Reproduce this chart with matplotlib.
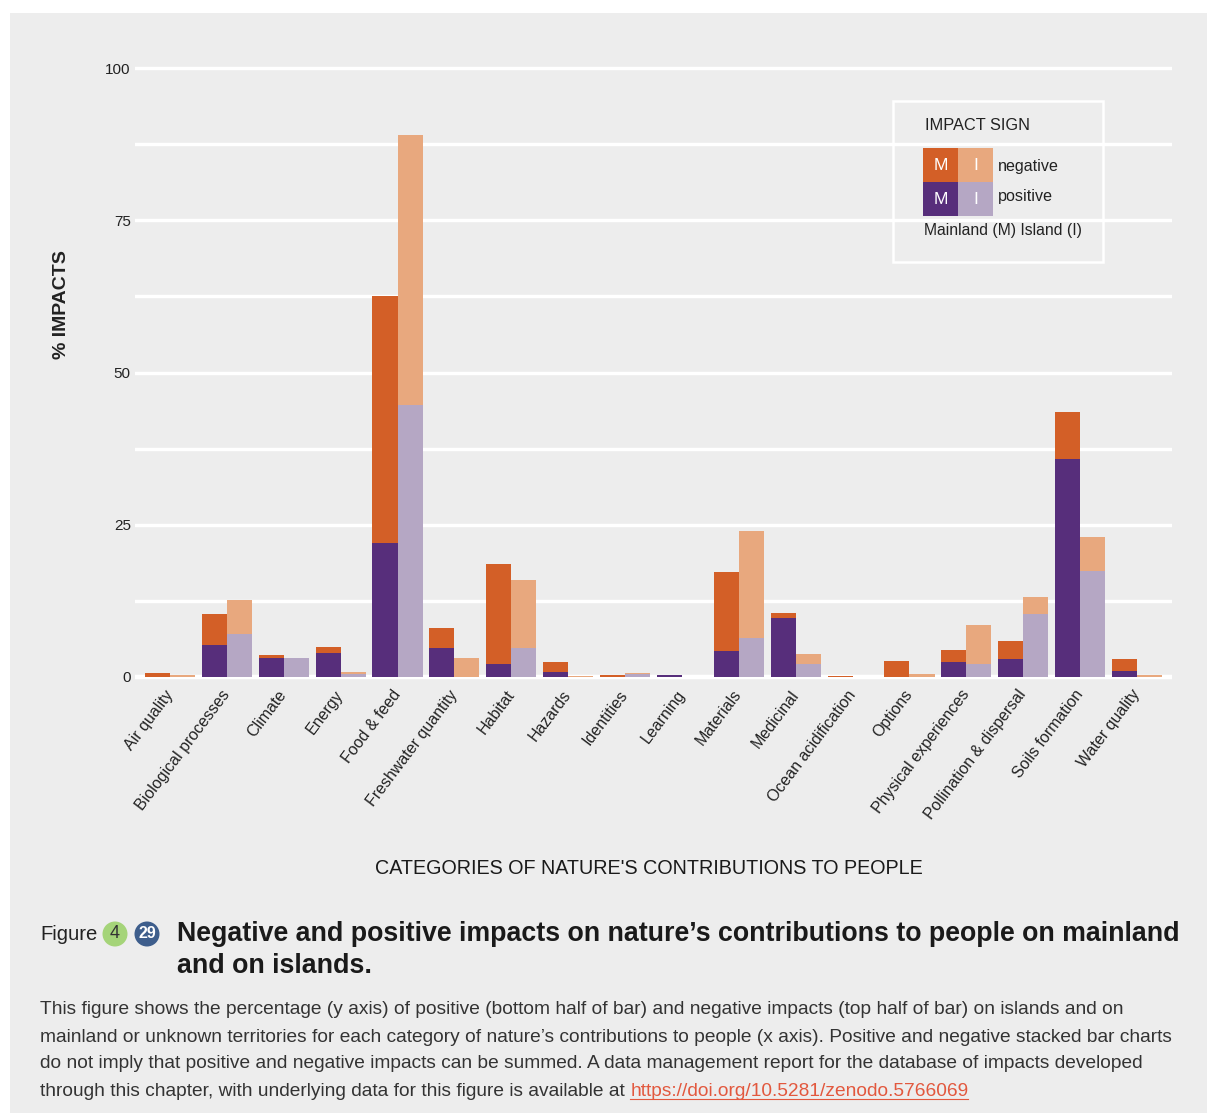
import matplotlib
matplotlib.use("Agg")
import matplotlib.pyplot as plt
from matplotlib.patches import Rectangle, Circle
import numpy as np

plt.rcParams['font.family'] = ['Liberation Sans', 'DejaVu Sans']

# Categories of nature's contributions to people
categories = ["Air quality", "Biological processes", "Climate", "Energy", "Food & feed",
              "Freshwater quantity", "Habitat", "Hazards", "Identities", "Learning",
              "Materials", "Medicinal", "Ocean acidification", "Options",
              "Physical experiences", "Pollination & dispersal", "Soils formation",
              "Water quality"]

# % of impacts, positive (bottom of bar) and negative (stacked on top)
mainland_pos = [0.0, 5.3, 3.1, 3.9, 22.0, 4.8, 2.1, 0.8, 0.0, 0.35, 4.3, 9.7, 0.0, 0.0, 2.5, 2.9, 35.8, 1.0]
mainland_neg = [0.6, 5.0, 0.5, 1.0, 40.6, 3.2, 16.5, 1.7, 0.3, 0.0, 12.9, 0.8, 0.15, 2.6, 1.9, 3.0, 7.7, 1.9]
island_pos = [0.0, 7.1, 3.1, 0.5, 44.7, 0.0, 4.8, 0.0, 0.5, 0.0, 6.4, 2.1, 0.0, 0.0, 2.1, 10.3, 17.4, 0.0]
island_neg = [0.3, 5.5, 0.0, 0.3, 44.3, 3.1, 11.1, 0.2, 0.1, 0.0, 17.6, 1.7, 0.0, 0.5, 6.4, 2.8, 5.6, 0.35]

y_ticks = [0, 25, 50, 75, 100]

C_M_NEG = "#D35F27"
C_I_NEG = "#E8A87E"
C_M_POS = "#572E7B"
C_I_POS = "#B5A7C4"
PANEL = "#EDEDED"
TXT = "#222222"

W, H = 1208, 1117
fig = plt.figure(figsize=(W / 100, H / 100), dpi=100, facecolor="white")

def fx(px):
    return px / W

def fy(py):
    return 1 - py / H

# grey panel behind everything
fig.patches.append(Rectangle((fx(10), fy(1113)), fx(1207) - fx(10), fy(13) - fy(1113),
                             transform=fig.transFigure, facecolor=PANEL, edgecolor="none", zorder=-10))

# axes geometry: y=0 at 677 px, y=100 at 68 px
ppu = (677 - 68) / 100
ylo, yhi = -1.5, 101.5
ax_bottom_px = 677 + (0 - ylo) * ppu
ax_top_px = 68 - (yhi - 100) * ppu
ax = fig.add_axes([fx(135), fy(ax_bottom_px), fx(1172) - fx(135), fy(ax_top_px) - fy(ax_bottom_px)])
ax.set_facecolor("none")
ax.set_ylim(ylo, yhi)
ax.set_xlim(-0.615, 17.615)

for v in np.arange(0, 100.1, 12.5):
    ax.axhline(v, color="white", lw=2.4 if v > 0 else 3.2, zorder=0)

x = np.arange(len(categories))
bw = 0.44
ax.bar(x - bw / 2, mainland_pos, bw, color=C_M_POS, zorder=2)
ax.bar(x - bw / 2, mainland_neg, bw, bottom=mainland_pos, color=C_M_NEG, zorder=2)
ax.bar(x + bw / 2, island_pos, bw, color=C_I_POS, zorder=2)
ax.bar(x + bw / 2, island_neg, bw, bottom=island_pos, color=C_I_NEG, zorder=2)

for s in ax.spines.values():
    s.set_visible(False)
ax.set_yticks(y_ticks)
ax.set_yticklabels([str(t) for t in y_ticks], fontsize=11, color=TXT)
ax.tick_params(axis="y", length=0, pad=3)
ax.set_xticks(x)
ax.set_xticklabels(categories, rotation=53, ha="right", va="center",
                   rotation_mode="anchor", fontsize=11.5, color=TXT)
ax.tick_params(axis="x", length=0, pad=4)

fig.text(fx(62), fy(305), "% IMPACTS", rotation=90, ha="center", va="center",
         fontsize=14, fontweight="bold", color=TXT)
fig.text(fx(649), fy(869), "CATEGORIES OF NATURE'S CONTRIBUTIONS TO PEOPLE", ha="center",
         va="center", fontsize=14.2, color="#1a1a1a")

# legend box
fig.patches.append(Rectangle((fx(893), fy(262)), fx(1103) - fx(893), fy(101) - fy(262),
                             transform=fig.transFigure, facecolor="none", edgecolor="white",
                             lw=1.8, zorder=5))
fig.text(fx(925), fy(126), "IMPACT SIGN", ha="left", va="center", fontsize=11.8, color=TXT)
swatches = [(923, 148, C_M_NEG, "M"), (958, 148, C_I_NEG, "I"),
            (923, 182, C_M_POS, "M"), (958, 182, C_I_POS, "I")]
for sx, sy, col, lab in swatches:
    fig.patches.append(Rectangle((fx(sx), fy(sy + 34)), fx(35), 34 / H,
                                 transform=fig.transFigure, facecolor=col, edgecolor="none", zorder=5))
    fig.text(fx(sx + 17.5), fy(sy + 17), lab, ha="center", va="center", fontsize=12.5,
             color="white", zorder=6)
fig.text(fx(998), fy(166), "negative", ha="left", va="center", fontsize=11.6, color=TXT)
fig.text(fx(998), fy(196), "positive", ha="left", va="center", fontsize=11.6, color=TXT)
fig.text(fx(924), fy(231), "Mainland (M) Island (I)", ha="left", va="center", fontsize=11.3, color=TXT)

# caption
fig.text(fx(40), fy(934), "Figure", ha="left", va="center", fontsize=14.6, color=TXT)
for cx, col, lab, tc in [(115, "#A5D479", "4", "#333333"), (147, "#3E5E8C", "29", "white")]:
    circ = Circle((fx(cx) * W / 100, fy(934) * H / 100), 12.5 / 100,
                  transform=fig.dpi_scale_trans, facecolor=col, edgecolor="none")
    fig.patches.append(circ)
    fig.text(fx(cx), fy(934), lab, ha="center", va="center", fontsize=13 if lab == "4" else 11.5,
             color=tc, fontweight="bold" if lab == "29" else "normal")

fig.text(fx(177), fy(934), "Negative and positive impacts on nature\u2019s contributions to people on mainland",
         ha="left", va="center", fontsize=19.3, fontweight="bold", color="#1a1a1a")
fig.text(fx(177), fy(966), "and on islands.", ha="left", va="center", fontsize=19.3,
         fontweight="bold", color="#1a1a1a")

body = [
    "This figure shows the percentage (y axis) of positive (bottom half of bar) and negative impacts (top half of bar) on islands and on",
    "mainland or unknown territories for each category of nature\u2019s contributions to people (x axis). Positive and negative stacked bar charts",
    "do not imply that positive and negative impacts can be summed. A data management report for the database of impacts developed",
]
BODY_FS = 13.8
for i, line in enumerate(body):
    fig.text(fx(40), fy(1010 + 27 * i), line, ha="left", va="center", fontsize=BODY_FS, color="#333333")
last = fig.text(fx(40), fy(1091), "through this chapter, with underlying data for this figure is available at ",
                ha="left", va="center", fontsize=BODY_FS, color="#333333")
fig.canvas.draw()
bb = last.get_window_extent()
link = fig.text(bb.x1 / W, fy(1091), "https://doi.org/10.5281/zenodo.5766069", ha="left", va="center",
                fontsize=BODY_FS, color="#E2583E")
fig.canvas.draw()
lb = link.get_window_extent()
fig.add_artist(plt.Line2D([lb.x0 / W, lb.x1 / W], [lb.y0 / H + 1.0 / H, lb.y0 / H + 1.0 / H],
                          transform=fig.transFigure, color="#E2583E", lw=0.8))

fig.savefig("out.png", dpi=100, facecolor="white")
